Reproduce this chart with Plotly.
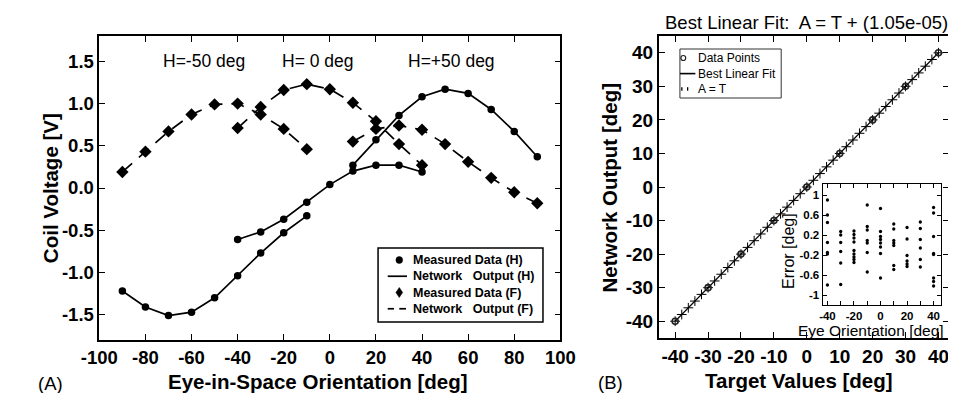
import plotly.graph_objects as go

# ---------------- data: panel A ----------------
X_HM50 = [-90, -80, -70, -60, -50, -40, -30, -20, -10]
X_H0 = [-40, -30, -20, -10, 0, 10, 20, 30, 40]
X_HP50 = [10, 20, 30, 40, 50, 60, 70, 80, 90]

H_M50 = [-1.22, -1.41, -1.51, -1.47, -1.30, -1.04, -0.77, -0.53, -0.33]
H_0 = [-0.61, -0.52, -0.37, -0.17, 0.04, 0.20, 0.27, 0.27, 0.19]
H_P50 = [0.27, 0.57, 0.86, 1.08, 1.17, 1.12, 0.93, 0.67, 0.37]

F_M50 = [0.19, 0.43, 0.67, 0.87, 0.99, 1.00, 0.87, 0.70, 0.46]
F_0 = [0.71, 0.96, 1.16, 1.23, 1.17, 1.01, 0.79, 0.52, 0.27]
F_P50 = [0.55, 0.70, 0.74, 0.69, 0.52, 0.31, 0.12, -0.05, -0.18]

A_XTICKS = [-100, -80, -60, -40, -20, 0, 20, 40, 60, 80, 100]
A_YTICKS = [-1.5, -1.0, -0.5, 0.0, 0.5, 1.0, 1.5]
A_YTEXT = ["-1.5", "-1.0", "-0.5", "0.0", "0.5", "1.0", "1.5"]
A_LEGEND = ["Measured Data (H)", "Network   Output (H)",
            "Measured Data (F)", "Network   Output (F)"]

# ---------------- data: panel B ----------------
TARGETS = [-40, -30, -20, -10, 0, 10, 20, 30, 40]
OUTPUTS = [-40, -30, -20, -10, 0, 10, 20, 30, 40]
FIT_X = [-40, 40]
FIT_Y = [-40.0, 40.0]
AT_X = [-40, -38, -36, -34, -32, -30, -28, -26, -24, -22, -20, -18, -16, -14,
        -12, -10, -8, -6, -4, -2, 0, 2, 4, 6, 8, 10, 12, 14, 16, 18, 20, 22,
        24, 26, 28, 30, 32, 34, 36, 38, 40]
B_TICKS = [-40, -30, -20, -10, 0, 10, 20, 30, 40]
B_LEGEND = ["Data Points", "Best Linear Fit", "A = T"]

# inset: error vs eye orientation
ERR_X = ([-40] * 7 + [-30] * 6 + [-20] * 9 + [-10] * 7 + [0] * 8 +
         [10] * 7 + [20] * 6 + [30] * 6 + [40] * 8)
ERR_Y = [0.90, 0.60, 0.45, 0.05, -0.15, -0.18, -0.80,
         0.27, 0.20, 0.05, -0.13, -0.36, -0.79,
         0.28, 0.21, 0.14, 0.06, -0.11, -0.18, -0.24, -0.29, -0.35,
         0.80, 0.37, 0.30, 0.09, 0.04, -0.15, -0.54,
         0.73, 0.27, 0.17, 0.11, 0.04, -0.04, -0.17, -0.66,
         0.42, 0.32, 0.09, 0.04, -0.01, -0.41, -0.49,
         0.35, 0.12, -0.21, -0.32, -0.38, -0.43,
         0.46, 0.33, 0.11, -0.06, -0.29, -0.44,
         0.75, 0.64, 0.17, -0.17, -0.19, -0.66, -0.73, -0.82]
INSET_XTICKS = [-40, -30, -20, -10, 0, 10, 20, 30, 40]
INSET_XTEXT = ["-40", "", "-20", "", "0", "", "20", "", "40"]
INSET_YTICKS = [-1, -0.6, -0.2, 0.2, 0.6, 1]
INSET_YTEXT = ["-1", "-0.6", "-0.2", "0.2", "0.6", "1"]

FONT = "Liberation Sans, Arial, Helvetica, sans-serif"
W, H = 956, 393


def px(p):
    return p / W


def py(p):
    return 1 - p / H


fig = go.Figure()

# ---- panel A curves: network output (lines) + measured data (markers) ----
curves = [(X_HM50, H_M50, "circle", 7.5, "solid"),
          (X_H0, H_0, "circle", 7.5, "solid"),
          (X_HP50, H_P50, "circle", 7.5, "solid"),
          (X_HM50, F_M50, "diamond", 9.5, "13px,9px"),
          (X_H0, F_0, "diamond", 9.5, "13px,9px"),
          (X_HP50, F_P50, "diamond", 9.5, "13px,9px")]
for xs, ys, sym, size, dash in curves:
    fig.add_trace(go.Scatter(
        x=xs, y=ys, mode="lines", xaxis="x", yaxis="y",
        line=dict(color="black", width=1.7, dash=dash), showlegend=False))
    fig.add_trace(go.Scatter(
        x=xs, y=ys, mode="markers", xaxis="x", yaxis="y",
        marker=dict(symbol=sym, size=size, color="black"), showlegend=False))

# ---- panel B ----
fig.add_trace(go.Scatter(
    x=FIT_X, y=FIT_Y, mode="lines", xaxis="x2", yaxis="y2",
    line=dict(color="black", width=1.2), showlegend=False))
fig.add_trace(go.Scatter(
    x=AT_X, y=AT_X, mode="markers", xaxis="x2", yaxis="y2",
    marker=dict(symbol="cross-thin-open", size=7, color="black",
                line=dict(width=1, color="black")), showlegend=False))
fig.add_trace(go.Scatter(
    x=TARGETS, y=OUTPUTS, mode="markers", xaxis="x2", yaxis="y2",
    marker=dict(symbol="circle-open", size=6, color="#222",
                line=dict(width=1.6)), showlegend=False))

# ---- inset ----
fig.add_trace(go.Scatter(
    x=ERR_X, y=ERR_Y, mode="markers", xaxis="x3", yaxis="y3",
    marker=dict(symbol="circle", size=3.3, color="black"),
    showlegend=False))

axis_common = dict(showline=True, linecolor="black", linewidth=1.6,
                   mirror="ticks", ticks="inside", ticklen=6,
                   tickcolor="black", tickwidth=1.3, showgrid=False,
                   zeroline=False)
inset_axis = {**axis_common, "ticklen": 4, "linewidth": 1.2}

fig.update_layout(
    width=W, height=H,
    margin=dict(l=0, r=0, t=0, b=0),
    paper_bgcolor="white", plot_bgcolor="white",
    font=dict(family=FONT, color="black"),
    showlegend=False,
    xaxis=dict(domain=[px(75), px(553)], range=[-100, 100], anchor="y",
               tickvals=A_XTICKS, ticktext=[str(v) for v in A_XTICKS],
               tickfont=dict(size=18.5, weight="bold"), **axis_common),
    yaxis=dict(domain=[py(332), py(28)], range=[-1.8, 1.8], anchor="x",
               tickvals=A_YTICKS, ticktext=A_YTEXT,
               tickfont=dict(size=18.5, weight="bold"), **axis_common),
    xaxis2=dict(domain=[px(655), 1.0], range=[-45, 43.2], anchor="y2",
                tickvals=B_TICKS, ticktext=[str(v) for v in B_TICKS],
                tickfont=dict(size=19, weight="bold"), **axis_common),
    yaxis2=dict(domain=[py(330), py(28)], range=[-45, 45], anchor="x2",
                tickvals=B_TICKS, ticktext=[str(v) for v in B_TICKS],
                tickfont=dict(size=19, weight="bold"), **axis_common),
    xaxis3=dict(domain=[px(825), px(948)], range=[-43.6, 45.8], anchor="y3",
                tickvals=INSET_XTICKS, ticktext=INSET_XTEXT,
                tickfont=dict(size=11.5, weight="bold"), **inset_axis),
    yaxis3=dict(domain=[py(297), py(176)], range=[-1.2, 1.22], anchor="x3",
                tickvals=INSET_YTICKS, ticktext=INSET_YTEXT,
                tickfont=dict(size=11.5, weight="bold"), **inset_axis),
)


def text(t, x, y, size, bold=False, angle=0, xanchor="center", yanchor="middle"):
    fig.add_annotation(text=t, x=px(x), y=py(y), xref="paper", yref="paper",
                       showarrow=False, textangle=angle, xanchor=xanchor,
                       yanchor=yanchor, align="left",
                       font=dict(size=size, family=FONT, color="black",
                                 weight="bold" if bold else "normal"))


def pline(x0, y0, x1, y1, width=1.7, dash="solid", color="black"):
    fig.add_shape(type="line", xref="paper", yref="paper",
                  x0=px(x0), y0=py(y0), x1=px(x1), y1=py(y1),
                  line=dict(color=color, width=width, dash=dash))


# ---- panel A labels ----
text("H=-50 deg", 184, 53, 17.5)
text("H= 0 deg", 302, 53, 17.5)
text("H=+50 deg", 440, 53, 17.5)
text("Eye-in-Space Orientation [deg]", 302, 373, 20.5, bold=True)
text("(A)", 24, 375, 18.5)
text("Coil Voltage [V]", 24, 180, 20.5, bold=True, angle=-90)

# ---- panel A legend (key drawn in page pixels) ----
fs_a = 12.5
step_a = 1.3 * fs_a
rows_a = [252 + i * step_a for i in range(4)]
fig.add_shape(type="rect", xref="paper", yref="paper",
              x0=px(364), x1=px(535), y0=py(314), y1=py(240),
              line=dict(color="black", width=1.5), fillcolor="white")
fig.add_shape(type="circle", xref="paper", yref="paper",
              x0=px(382.5), x1=px(389.5), y0=py(rows_a[0] + 3.5), y1=py(rows_a[0] - 3.5),
              fillcolor="black", line=dict(color="black", width=0.5))
pline(374, rows_a[1], 394, rows_a[1])
d = rows_a[2]
fig.add_shape(type="path", xref="paper", yref="paper",
              path="M %f,%f L %f,%f L %f,%f L %f,%f Z" % (
                  px(386), py(d - 5), px(389.5), py(d), px(386), py(d + 5), px(382.5), py(d)),
              fillcolor="black", line=dict(color="black", width=0.5))
pline(374, rows_a[3], 380.5, rows_a[3])
pline(386, rows_a[3], 393, rows_a[3])
text("<br>".join(A_LEGEND), 398, (rows_a[0] + rows_a[3]) / 2, fs_a,
     bold=True, xanchor="left")

# ---- panel B labels ----
text("Best Linear Fit:  A = T + (1.05e-05)", 808, 15, 18.5)
text("Target Values [deg]", 800, 372, 20.5, bold=True)
text("(B)", 605, 374, 18.5)
text("Network Output [deg]", 603, 180, 20.5, bold=True, angle=-90)
text("Eye Orientation [deg]", 875, 322.5, 15.5)
text("Error [deg]", 789, 243, 16, angle=-90)

# ---- panel B legend ----
fs_b = 12
step_b = 1.3 * fs_b
rows_b = [50 + i * step_b for i in range(3)]
fig.add_shape(type="rect", xref="paper", yref="paper",
              x0=px(677), x1=px(782), y0=py(90), y1=py(41),
              line=dict(color="#333", width=1), fillcolor="white")
fig.add_shape(type="circle", xref="paper", yref="paper",
              x0=px(678), x1=px(683), y0=py(rows_b[0] + 2.5), y1=py(rows_b[0] - 2.5),
              line=dict(color="#222", width=1.2))
pline(677, rows_b[1], 693, rows_b[1], width=1.6)
pline(679, rows_b[2] - 2, 679, rows_b[2] + 1.5, width=1.3)
pline(685, rows_b[2] - 2, 685, rows_b[2] + 1.5, width=1.3)
text("<br>".join(B_LEGEND), 694, rows_b[1], fs_b, xanchor="left")

fig.write_html("out.html")
